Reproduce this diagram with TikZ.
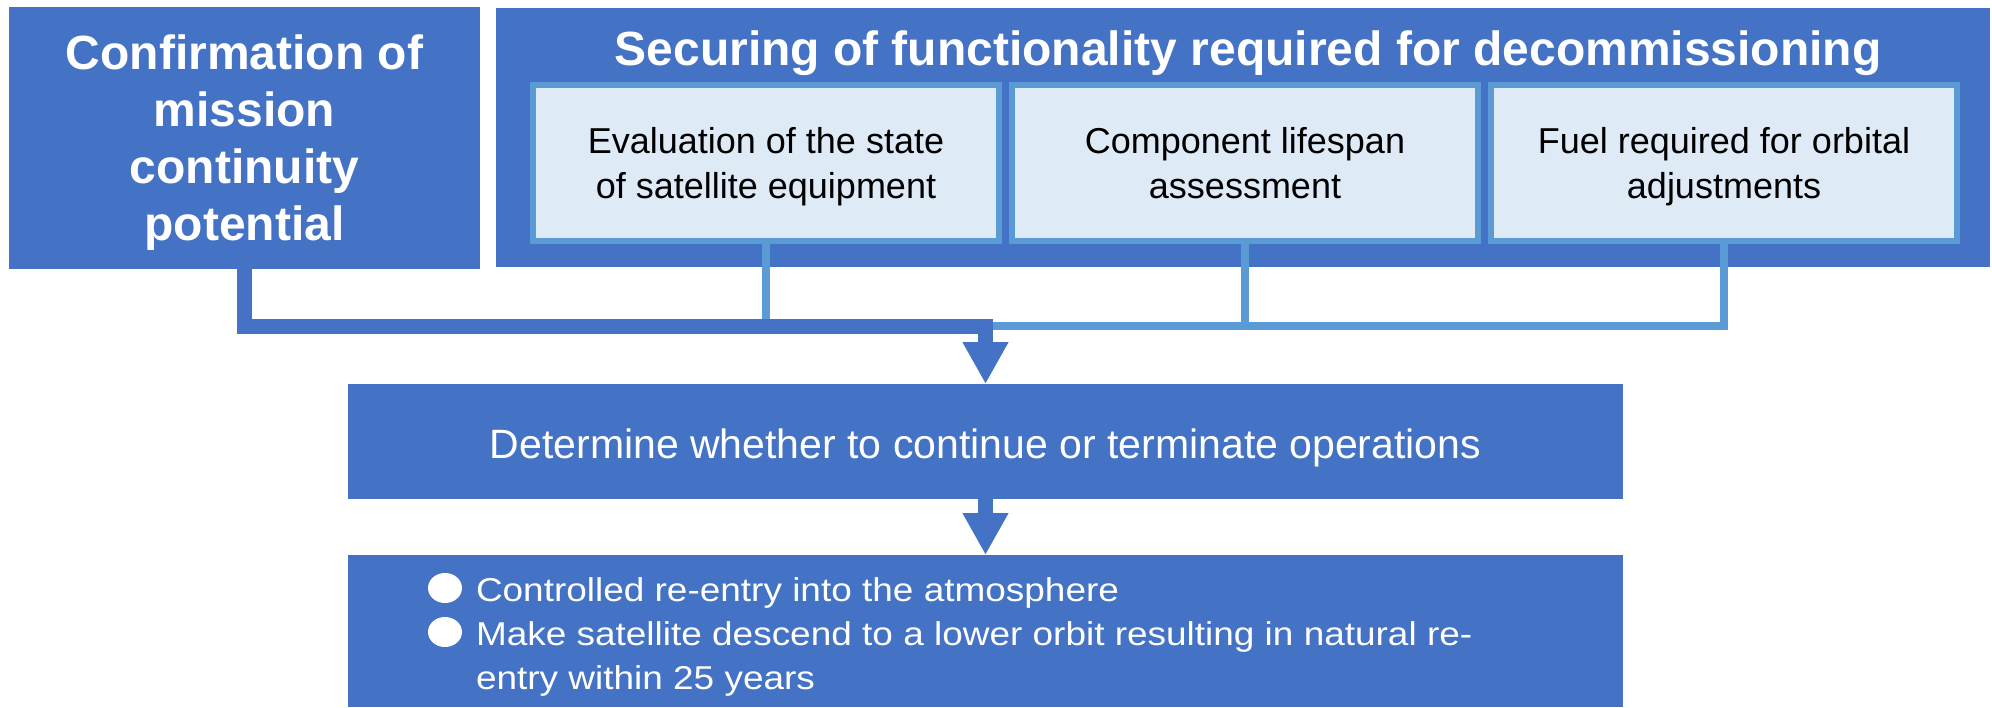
\documentclass[tikz,border=0pt]{standalone}
\usepackage{fontspec}
\setmainfont{Liberation Sans}
\newfontfamily\bulletfont[FakeStretch=1.12]{Liberation Sans}
\usetikzlibrary{arrows.meta,shapes.geometric}
\definecolor{dblue}{HTML}{4472C4}
\definecolor{lblue}{HTML}{5B9BD5}
\definecolor{pblue}{HTML}{DEEBF7}
\begin{document}
\begin{tikzpicture}[x=1pt,y=-1pt,
  dbox/.style={fill=dblue, draw=none, inner sep=0pt, outer sep=0pt, anchor=north west},
  ibox/.style={fill=pblue, draw=lblue, line width=6pt, minimum width=466pt, minimum height=156pt, inner sep=0pt, outer sep=0pt},
  wtext/.style={text=white, inner sep=0pt, outer sep=0pt},
  btext/.style={text=black, inner sep=0pt, outer sep=0pt, align=center, font=\fontsize{36}{45}\selectfont},
  lconn/.style={draw=lblue, line width=8pt, line join=miter},
  dconn/.style={draw=dblue, line width=15pt, line join=miter, -{Triangle[width=43pt,length=42pt]}},
  bdot/.style={ellipse, fill=white, draw=none, minimum width=34pt, minimum height=30pt, inner sep=0pt}
]
\useasboundingbox (0,0) rectangle (1992,707);
% boxes
\node[dbox, minimum width=471pt, minimum height=262pt] (conf) at (9,7) {};
\node[dbox, minimum width=1494pt, minimum height=259pt] (secure) at (496,8) {};
\node[ibox] (b1) at (766,163) {};
\node[ibox] (b2) at (1245,163) {};
\node[ibox] (b3) at (1724,163) {};
\node[dbox, minimum width=1275pt, minimum height=115pt] (det) at (348,384) {};
\node[dbox, minimum width=1275pt, minimum height=152pt] (bot) at (348,555) {};
% texts
\node[wtext, align=center, font=\fontsize{48}{57}\selectfont\bfseries] (conft) at (244.5,143) {Confirmation of\\mission\\continuity\\potential};
\node[wtext, anchor=base, font=\fontsize{48}{57}\selectfont\bfseries] (title) at (1248,65) {Securing of functionality required for decommissioning};
\node[btext] (b1t) at (766,167) {Evaluation of the state\\of satellite equipment};
\node[btext] (b2t) at (1245,163.5) {Component lifespan\\assessment};
\node[btext] (b3t) at (1724,167) {Fuel required for orbital\\adjustments};
\node[wtext, anchor=base, font=\fontsize{41}{49}\selectfont] (dett) at (985.5,458) {Determine whether to continue or terminate operations};
\node[bdot] (dot1) at (445,588) {};
\node[bdot] (dot2) at (445,632) {};
\node[wtext, anchor=north west, align=left, font=\bulletfont\fontsize{33}{44}\selectfont] (bott) at (476,578) {Controlled re-entry into the atmosphere\\Make satellite descend to a lower orbit resulting in natural re-\\entry within 25 years};
% connectors
\coordinate (jn) at (985.5,326);
\draw[lconn] (b1.south) |- (jn) -| (b3.south);
\draw[lconn] (b2.south) -- (b2.south |- jn);
\draw[dconn] (conf.south) |- (jn) -- (det.north);
\draw[dconn] (det.south) -- (bot.north);
\end{tikzpicture}
\end{document}
